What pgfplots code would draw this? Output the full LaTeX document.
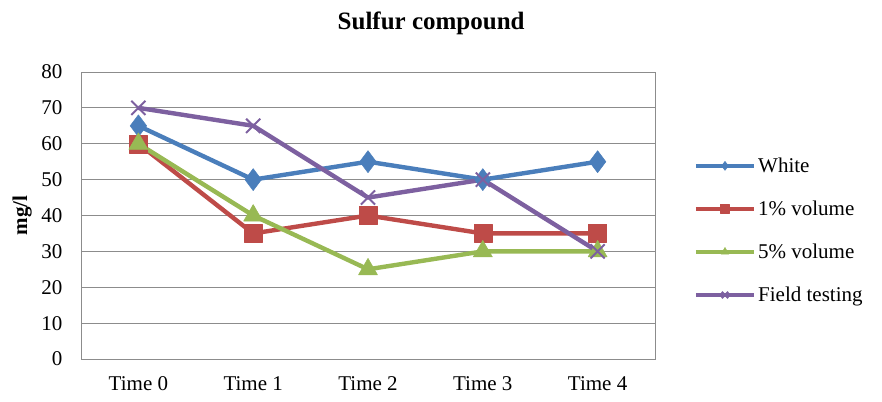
\documentclass[border=0pt]{standalone}
\usepackage{pgfplots}
\pgfplotsset{compat=1.18}
\usepackage{fontspec}
\setmainfont{Liberation Serif}
\usetikzlibrary{plotmarks}

\definecolor{cWhite}{HTML}{4A7EBB}
\definecolor{cOne}{HTML}{BE4B48}
\definecolor{cFive}{HTML}{98B954}
\definecolor{cField}{HTML}{7D60A0}
\definecolor{gridgray}{HTML}{8C8C8C}

\begin{document}
\begin{tikzpicture}[x=1bp,y=1bp]
\path (0,0) rectangle (882,401);
\begin{axis}[
  at={(81bp,42bp)}, anchor=south west,
  scale only axis, width=574bp, height=287bp,
  xmin=-0.5, xmax=4.5, ymin=0, ymax=80,
  xtick={0,1,2,3,4},
  xticklabels={Time 0,Time 1,Time 2,Time 3,Time 4},
  ytick={0,10,...,80},
  ymajorgrids, grid style={gridgray, line width=0.8bp},
  axis line style={gridgray, line width=0.8bp},
  major tick length=0pt,
  tick label style={font=\fontsize{21bp}{24bp}\selectfont},
  /pgf/number format/assume math mode=true,
  xticklabel style={yshift=-14bp},
  yticklabel style={xshift=-15bp},
  title={\textbf{Sulfur compound}},
  title style={font=\fontsize{25bp}{28bp}\selectfont, at={(0.61,1)}, yshift=28bp},
  ylabel={\textbf{mg/l}},
  ylabel style={font=\fontsize{21bp}{24bp}\selectfont, yshift=3bp},
  legend style={at={(1.062,0.448)}, anchor=west, draw=none, fill=none,
    font=\fontsize{21bp}{24bp}\selectfont, row sep=23bp,
    nodes={inner xsep=2bp}},
  legend cell align=left,
  legend image code/.code={%
    \draw[mark repeat=2,mark phase=2,#1,mark size=4.5bp]
      plot coordinates {(0bp,0bp) (29bp,0bp) (58bp,0bp)};},
  every axis plot/.append style={line width=4.4bp, line join=round},
]
\addplot[color=cWhite, mark=diamond*, mark size=11bp, mark options={line width=0.5bp}]
  coordinates {(0,65) (1,50) (2,55) (3,50) (4,55)};
\addlegendentry{White}
\addplot[color=cOne, mark=square*, mark size=9bp, mark options={line width=0.5bp}]
  coordinates {(0,60) (1,35) (2,40) (3,35) (4,35)};
\addlegendentry{1\% volume}
\addplot[color=cFive, mark=triangle*, mark size=11bp, mark options={line width=0.5bp}]
  coordinates {(0,60) (1,40) (2,25) (3,30) (4,30)};
\addlegendentry{5\% volume}
\addplot[color=cField, mark=x, mark size=10bp, mark options={line width=2bp}]
  coordinates {(0,70) (1,65) (2,45) (3,50) (4,30)};
\addlegendentry{Field testing}
\end{axis}
\end{tikzpicture}
\end{document}
